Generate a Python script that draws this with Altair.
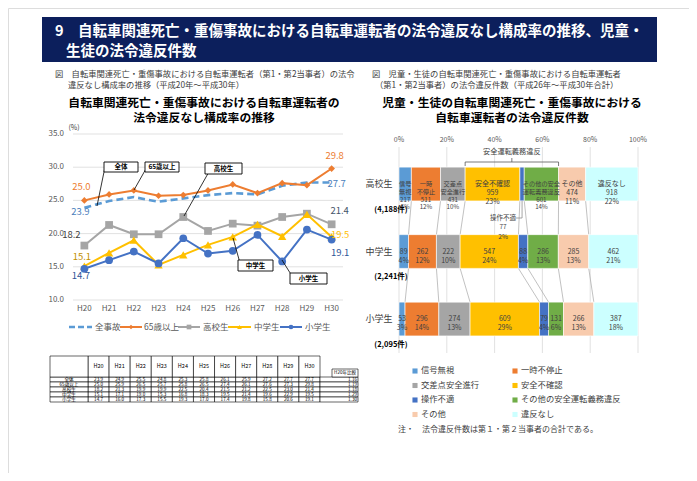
import altair as alt
import pandas as pd

M = 8  # page margin: chart pixel = image pixel - 8


def P(v):
    return v - M


FONT = "Noto Sans CJK JP"

# ---------------- data ----------------
years = ["H20", "H21", "H22", "H23", "H24", "H25", "H26", "H27", "H28", "H29", "H30"]
all_accidents = [23.9, 24.9, 25.5, 24.8, 25.3, 25.8, 26.1, 25.9, 27.2, 27.7, 27.7]
age65 = [25.0, 25.9, 26.5, 25.7, 25.8, 26.5, 27.4, 26.1, 27.6, 27.3, 29.8]
high_school = [18.2, 21.3, 19.9, 19.9, 22.5, 20.4, 21.5, 21.2, 22.5, 23.0, 21.4]
junior_high = [15.1, 17.1, 19.0, 15.3, 16.8, 18.3, 19.5, 21.4, 19.6, 22.9, 19.5]
elementary = [14.7, 16.0, 17.3, 15.5, 19.3, 17.0, 17.4, 19.8, 15.8, 20.6, 19.1]
ratio_h20 = [1.16, 1.19, 1.18, 1.29, 1.30]
line_series = ["全事故", "65歳以上", "高校生", "中学生", "小学生"]
table_rows = ["全体", "65歳以上", "高校生", "中学生", "小学生"]
y_ticks = [10, 15, 20, 25, 30, 35]

groups = ["高校生", "中学生", "小学生"]
group_totals = [4188, 2241, 2095]
violations = ["信号無視", "一時不停止", "交差点安全進行", "安全不確認", "操作不適",
              "その他の安全運転義務違反", "その他", "違反なし"]
counts_high = [217, 511, 431, 959, 77, 601, 474, 918]
counts_junior = [89, 262, 222, 547, 88, 286, 285, 462]
counts_elem = [53, 296, 274, 609, 79, 131, 266, 387]
pct_high = [5, 12, 10, 23, 2, 14, 11, 22]
pct_junior = [4, 12, 10, 24, 4, 13, 13, 21]
pct_elem = [3, 14, 13, 29, 4, 6, 13, 18]
high_names = ["信号\n無視", "一時\n不停止", "交差点\n安全進行", "安全不確認", "操作不適",
              "その他の安全\n運転義務違反", "その他", "違反なし"]
x_ticks = [0, 20, 40, 60, 80, 100]

# ---------------- styles ----------------
line_colors = ["#5B9BD5", "#ED7D31", "#A5A5A5", "#FFC000", "#4472C4"]
marker_shapes = ["", "diamond", "square", "triangle-up", "circle"]
marker_sizes = [0, 45, 60, 70, 60]
bar_colors = ["#5B9BD5", "#ED7D31", "#A5A5A5", "#FFC000", "#4472C4", "#70AD47", "#F8CBAD", "#CCFFFF"]
TXT = "#404040"

one = pd.DataFrame({"k": [0]})


def ptext(rows, **kw):
    df = pd.DataFrame(rows, columns=["x", "y", "t"])
    df["x"] = df["x"] - M
    df["y"] = df["y"] - M
    return alt.Chart(df).mark_text(font=FONT, **kw).encode(
        x=alt.X("x:Q", scale=None, axis=None),
        y=alt.Y("y:Q", scale=None, axis=None),
        text="t:N")


def prule(rows, **kw):
    df = pd.DataFrame(rows, columns=["x", "y", "x2", "y2"])
    for c in df.columns:
        df[c] = df[c] - M
    return alt.Chart(df).mark_rule(**kw).encode(
        x=alt.X("x:Q", scale=None, axis=None), y=alt.Y("y:Q", scale=None, axis=None),
        x2="x2:Q", y2="y2:Q")


def prect(rows, **kw):
    df = pd.DataFrame(rows, columns=["x", "y", "x2", "y2"])
    for c in df.columns:
        df[c] = df[c] - M
    return alt.Chart(df).mark_rect(**kw).encode(
        x=alt.X("x:Q", scale=None, axis=None), y=alt.Y("y:Q", scale=None, axis=None),
        x2="x2:Q", y2="y2:Q")


layers = []

# ---------------- banner & headings ----------------
layers.append(alt.Chart(one).mark_rect(color="#0C1F5C").encode(
    x=alt.value(P(42)), x2=alt.value(P(657)), y=alt.value(P(17)), y2=alt.value(P(62))))
layers.append(ptext([
    (55, 32, "9　自転車関連死亡・重傷事故における自転車運転者の法令違反なし構成率の推移、児童・"),
    (66, 52, "生徒の法令違反件数")],
    align="left", baseline="middle", fontSize=14.5, fontWeight="bold", color="white"))
layers.append(ptext([
    (55, 75, "図　自転車関連死亡・重傷事故における自転車運転者（第1・第2当事者）の法令"),
    (68, 86, "違反なし構成率の推移（平成20年～平成30年）"),
    (372, 75, "図　児童・生徒の自転車関連死亡・重傷事故における自転車運転者"),
    (375, 86, "（第1・第2当事者）の法令違反件数（平成26年～平成30年合計）")],
    align="left", baseline="middle", fontSize=8.3, color=TXT))
layers.append(ptext([
    (204, 103, "自転車関連死亡・重傷事故における自転車運転者の"),
    (204, 118, "法令違反なし構成率の推移"),
    (512, 103, "児童・生徒の自転車関連死亡・重傷事故における"),
    (512, 118, "自転車運転者の法令違反件数")],
    align="center", baseline="middle", fontSize=11.8, fontWeight="bold", color="#000000"))

# ---------------- line chart ----------------
X_LINE = alt.Scale(type="point", domain=years, range=[P(72), P(344)], padding=0.5)
Y_LINE = alt.Scale(domain=[10, 35], range=[P(300), P(134)], nice=False, zero=False)

series_vals = [all_accidents, age65, high_school, junior_high, elementary]
line_df = pd.DataFrame([{"series": s, "year": y, "value": v}
                        for s, arr in zip(line_series, series_vals)
                        for y, v in zip(years, arr)])
ticks_df = pd.DataFrame({"v": y_ticks})
years_df = pd.DataFrame({"year": years})

lc = []
lc.append(alt.Chart(ticks_df).mark_rule(color="#D9D9D9", strokeWidth=0.8).encode(
    y=alt.Y("v:Q", scale=Y_LINE, axis=None), x=alt.value(P(73)), x2=alt.value(P(343))))
lc.append(alt.Chart(ticks_df).mark_text(font=FONT, align="right", baseline="middle",
                                        fontSize=8, color="#595959").encode(
    y=alt.Y("v:Q", scale=Y_LINE, axis=None), x=alt.value(P(64)),
    text=alt.Text("v:Q", format=".1f")))
lc.append(alt.Chart(years_df).mark_text(font=FONT, baseline="middle", fontSize=8,
                                        color="#595959").encode(
    x=alt.X("year:O", scale=X_LINE, axis=None), y=alt.value(P(309)), text="year:N"))

for i, s in enumerate(line_series):
    sub = line_df[line_df["series"] == s]
    kw = dict(color=line_colors[i], strokeWidth=2)
    if i == 0:
        kw = dict(color=line_colors[i], strokeWidth=2.6, strokeDash=[7, 4])
    lc.append(alt.Chart(sub).mark_line(**kw).encode(
        x=alt.X("year:O", scale=X_LINE, axis=None), y=alt.Y("value:Q", scale=Y_LINE, axis=None)))
    if marker_shapes[i]:
        lc.append(alt.Chart(sub).mark_point(shape=marker_shapes[i], filled=True, opacity=1,
                                            size=marker_sizes[i], color=line_colors[i]).encode(
            x=alt.X("year:O", scale=X_LINE, axis=None), y=alt.Y("value:Q", scale=Y_LINE, axis=None)))

label_specs = [
    ("65歳以上", 0, -3, -13, "#ED7D31"),
    ("全事故", 0, -4, 4, "#4A7EBB"),
    ("65歳以上", 10, 3, -12.5, "#ED7D31"),
    ("全事故", 10, 5, 1.5, "#4A7EBB"),
    ("高校生", 0, -13, -10.5, "#404040"),
    ("高校生", 10, 8, -13, "#44546A"),
    ("中学生", 0, -2.5, -9, "#BF8F00"),
    ("中学生", 10, 8.5, -2, "#FFC000"),
    ("小学生", 0, -3.5, 7, "#2F5597"),
    ("小学生", 10, 8.5, 13.5, "#2F5597"),
]
for s, idx, dx, dy, col in label_specs:
    sub = line_df[(line_df["series"] == s) & (line_df["year"] == years[idx])]
    lc.append(alt.Chart(sub).mark_text(font=FONT, fontSize=9.5, color=col, dx=dx, dy=dy,
                                       baseline="middle").encode(
        x=alt.X("year:O", scale=X_LINE, axis=None), y=alt.Y("value:Q", scale=Y_LINE, axis=None),
        text=alt.Text("value:Q", format=".1f")))

layers.append(alt.layer(*lc))

layers.append(ptext([(74, 128, "(%)")], fontSize=7, color=TXT, baseline="middle"))

# callouts
layers.append(prule([(105, 167, 97, 206), (147, 167, 134, 190), (210, 170, 184, 216),
                     (240, 263, 233, 238), (292, 276, 282, 260)],
                    color="#000000", strokeWidth=0.8))
layers.append(prect([(104, 162, 138, 172), (145, 162, 179, 172), (205, 163, 242, 174),
                     (238, 260, 273, 271), (290, 273, 327, 284)],
                    fill="white", stroke="#000000", strokeWidth=0.9))
layers.append(ptext([(121, 167, "全体"), (162, 167, "65歳以上"), (223.5, 168.5, "高校生"),
                     (255.5, 265.5, "中学生"), (308.5, 278.5, "小学生")],
                    fontSize=6.5, fontWeight="bold", color="#000000", baseline="middle"))

# line legend
leg_items = [(69, 92, 95), (120, 142, 144), (178, 200, 203), (228, 251, 254), (280, 302, 305)]
layers.append(prule([(leg_items[0][0], 327, leg_items[0][1], 327)],
                    color=line_colors[0], strokeWidth=2.5, strokeDash=[6, 3]))
for i in range(1, 5):
    a, b, _ = leg_items[i]
    layers.append(prule([(a, 327, b, 327)], color=line_colors[i], strokeWidth=2))
    mdf = pd.DataFrame({"x": [P((a + b) / 2)], "y": [P(327)]})
    layers.append(alt.Chart(mdf).mark_point(shape=marker_shapes[i], filled=True, opacity=1,
                                            size=22, color=line_colors[i]).encode(
        x=alt.X("x:Q", scale=None, axis=None), y=alt.Y("y:Q", scale=None, axis=None)))
layers.append(ptext([(leg_items[i][2], 327, line_series[i]) for i in range(5)],
                    align="left", baseline="middle", fontSize=8.5, color="#595959"))

# ---------------- table ----------------
TX = alt.Scale(type="band", domain=years, range=[P(88), P(320)], paddingInner=0, paddingOuter=0)
TY = alt.Scale(type="band", domain=table_rows, range=[P(377), P(402)], paddingInner=0, paddingOuter=0)
cell_df = pd.DataFrame([{"row": r, "year": y, "value": v}
                        for r, arr in zip(table_rows, series_vals)
                        for y, v in zip(years, arr)])
rows_df = pd.DataFrame({"row": table_rows, "ratio": ratio_h20})
tb = []
cell_kw = dict(fill="white", stroke="#000000", strokeWidth=0.6)
tb.append(alt.Chart(cell_df).mark_rect(**cell_kw).encode(
    x=alt.X("year:O", scale=TX, axis=None), y=alt.Y("row:N", scale=TY, axis=None)))
tb.append(alt.Chart(years_df).mark_rect(**cell_kw).encode(
    x=alt.X("year:O", scale=TX, axis=None), y=alt.value(P(356)), y2=alt.value(P(377))))
tb.append(alt.Chart(rows_df).mark_rect(**cell_kw).encode(
    x=alt.value(P(50)), x2=alt.value(P(88)), y=alt.Y("row:N", scale=TY, axis=None)))
tb.append(alt.Chart(rows_df).mark_rect(**cell_kw).encode(
    x=alt.value(P(320)), x2=alt.value(P(358)), y=alt.Y("row:N", scale=TY, axis=None)))
tb.append(alt.Chart(one).mark_rect(**cell_kw).encode(
    x=alt.value(P(50)), x2=alt.value(P(88)), y=alt.value(P(356)), y2=alt.value(P(377))))
tb.append(alt.Chart(one).mark_rect(**cell_kw).encode(
    x=alt.value(P(332)), x2=alt.value(P(358)), y=alt.value(P(369)), y2=alt.value(P(377))))
tb.append(alt.Chart(years_df).mark_text(font=FONT, fontSize=5.5, color="#000000",
                                        baseline="middle").encode(
    x=alt.X("year:O", scale=TX, axis=None), y=alt.value(P(366)), text="year:N"))
tb.append(alt.Chart(cell_df).mark_text(font=FONT, fontSize=4.6, color="#000000",
                                       baseline="middle").encode(
    x=alt.X("year:O", scale=TX, axis=None), y=alt.Y("row:N", scale=TY, axis=None),
    text=alt.Text("value:Q", format=".1f")))
tb.append(alt.Chart(rows_df).mark_text(font=FONT, fontSize=4.6, color="#000000",
                                       baseline="middle").encode(
    x=alt.value(P(69)), y=alt.Y("row:N", scale=TY, axis=None), text="row:N"))
tb.append(alt.Chart(rows_df).mark_text(font=FONT, fontSize=4.6, color="#000000",
                                       baseline="middle", align="right").encode(
    x=alt.value(P(357)), y=alt.Y("row:N", scale=TY, axis=None),
    text=alt.Text("ratio:Q", format=".2f")))
tb.append(alt.Chart(one).mark_text(font=FONT, fontSize=4.5, color="#000000", baseline="middle",
                                   text="H20年比較").encode(
    x=alt.value(P(345)), y=alt.value(P(373))))
layers.append(alt.layer(*tb))

# ---------------- stacked bar chart ----------------
BX = alt.Scale(domain=[0, 100], range=[P(399), P(638)], nice=False, zero=False)
BY = alt.Scale(domain=[0, 3], range=[P(150.25), P(352.75)], nice=False, zero=False)

all_counts = [counts_high, counts_junior, counts_elem]
all_pcts = [pct_high, pct_junior, pct_elem]
rows = []
for gi, (g, cnts, pcts) in enumerate(zip(groups, all_counts, all_pcts)):
    tot = sum(cnts)
    cum = 0.0
    for vi, (v, c, p) in enumerate(zip(violations, cnts, pcts)):
        start = cum / tot * 100
        cum += c
        end = cum / tot * 100
        if gi == 0:
            lab = f"{high_names[vi]}\n{c}\n{p}%"
        else:
            lab = f"{c}\n{p}%"
        rows.append({"group": g, "gi": gi, "vi": vi, "violation": v, "count": c,
                     "start": start, "end": end, "mid": (start + end) / 2,
                     "y0": gi + 0.25, "y1": gi + 0.75, "yc": gi + 0.5, "label": lab})
bar_df = pd.DataFrame(rows)

bc = []
bc.append(alt.Chart(pd.DataFrame({"g": x_ticks})).mark_rule(color="#D9D9D9", strokeWidth=0.8).encode(
    x=alt.X("g:Q", scale=BX, axis=None), y=alt.value(P(147)), y2=alt.value(P(353))))
bc.append(alt.Chart(pd.DataFrame({"g": x_ticks, "gl": [f"{t}%" for t in x_ticks]})).mark_text(
    font=FONT, fontSize=7, color="#595959", baseline="middle").encode(
    x=alt.X("g:Q", scale=BX, axis=None), y=alt.value(P(140)), text="gl:N"))

# series connector lines
conn = []
for gi in range(2):
    a = bar_df[bar_df["gi"] == gi].sort_values("vi")
    b = bar_df[bar_df["gi"] == gi + 1].sort_values("vi")
    for vi in range(7):
        conn.append({"xa": a["end"].iloc[vi], "xb": b["end"].iloc[vi],
                     "ya": gi + 0.75, "yb": gi + 1.25})
bc.append(alt.Chart(pd.DataFrame(conn)).mark_rule(color="#A6A6A6", strokeWidth=0.7).encode(
    x=alt.X("xa:Q", scale=BX, axis=None), x2="xb:Q",
    y=alt.Y("ya:Q", scale=BY, axis=None), y2="yb:Q"))

bc.append(alt.Chart(bar_df).mark_rect(stroke="white", strokeWidth=0.6).encode(
    x=alt.X("start:Q", scale=BX, axis=None), x2="end:Q",
    y=alt.Y("y0:Q", scale=BY, axis=None), y2="y1:Q",
    color=alt.Color("violation:N", scale=alt.Scale(domain=violations, range=bar_colors), legend=None)))

hs = bar_df[bar_df["gi"] == 0]
four = hs[hs["vi"].isin([0, 1, 2, 5])]
three = hs[hs["vi"].isin([3, 6, 7])]
callout = hs[hs["vi"] == 4]
others = bar_df[bar_df["gi"] > 0]


def seg_text(df, **kw):
    return alt.Chart(df).mark_text(font=FONT, color=TXT, baseline="middle", lineBreak="\n", **kw).encode(
        x=alt.X("mid:Q", scale=BX, axis=None), y=alt.Y("yc:Q", scale=BY, axis=None), text="label:N")


bc.append(seg_text(four, fontSize=6.2, lineHeight=7.8))
bc.append(seg_text(three, fontSize=7, lineHeight=9.2))
bc.append(seg_text(others, fontSize=7, lineHeight=9.2))
bc.append(seg_text(callout, fontSize=6.5, lineHeight=9.5, dx=-19, dy=33.5))
bc.append(alt.Chart(callout).mark_rule(color="#7F7F7F", strokeWidth=0.7).encode(
    x=alt.X("mid:Q", scale=BX, axis=None), y=alt.value(P(201)), y2=alt.value(P(218))))
bc.append(alt.Chart(callout).mark_rule(color="#7F7F7F", strokeWidth=0.7).encode(
    x=alt.X("mid:Q", scale=BX, axis=None), x2=alt.value(P(516)), y=alt.value(P(218))))

# bracket for 安全運転義務違反 (安全不確認 .. その他の安全運転義務違反)
br = pd.DataFrame({"a": [hs[hs["vi"] == 3]["start"].iloc[0]],
                   "b": [hs[hs["vi"] == 5]["end"].iloc[0]]})
br["c"] = (br["a"] + br["b"]) / 2
br["t"] = ["安全運転義務違反"]
bk = dict(color="#595959", strokeWidth=0.8)
bc.append(alt.Chart(br).mark_rule(**bk).encode(
    x=alt.X("a:Q", scale=BX, axis=None), x2="b:Q", y=alt.value(P(162))))
bc.append(alt.Chart(br).mark_rule(**bk).encode(
    x=alt.X("a:Q", scale=BX, axis=None), y=alt.value(P(162)), y2=alt.value(P(166))))
bc.append(alt.Chart(br).mark_rule(**bk).encode(
    x=alt.X("b:Q", scale=BX, axis=None), y=alt.value(P(162)), y2=alt.value(P(166))))
bc.append(alt.Chart(br).mark_rule(**bk).encode(
    x=alt.X("c:Q", scale=BX, axis=None), y=alt.value(P(158)), y2=alt.value(P(162))))
bc.append(alt.Chart(br).mark_text(font=FONT, fontSize=7.2, color=TXT, baseline="middle").encode(
    x=alt.X("c:Q", scale=BX, axis=None), y=alt.value(P(152)), text="t:N"))

gdf = pd.DataFrame({"group": groups, "yc": [i + 0.5 for i in range(3)],
                    "yt": [i + 0.885 for i in range(3)],
                    "tot": [f"({t:,}件)" for t in group_totals]})
bc.append(alt.Chart(gdf).mark_text(font=FONT, fontSize=9, color=TXT, baseline="middle").encode(
    x=alt.value(P(379)), y=alt.Y("yc:Q", scale=BY, axis=None), text="group:N"))
bc.append(alt.Chart(gdf).mark_text(font=FONT, fontSize=7.5, fontWeight="bold", color="#000000",
                                   baseline="middle").encode(
    x=alt.value(P(391)), y=alt.Y("yt:Q", scale=BY, axis=None), text="tot:N"))
layers.append(alt.layer(*bc))

# bar legend
lx = [415, 515]
ly = [371, 385.5, 400, 414.5]
leg = pd.DataFrame({
    "x": [P(lx[i % 2]) for i in range(8)],
    "y": [P(ly[i // 2]) for i in range(8)],
    "c": bar_colors, "t": violations})
layers.append(alt.Chart(leg).mark_square(size=26, opacity=1).encode(
    x=alt.X("x:Q", scale=None, axis=None), y=alt.Y("y:Q", scale=None, axis=None),
    color=alt.Color("c:N", scale=None)))
layers.append(alt.Chart(leg).mark_text(font=FONT, fontSize=8.3, color=TXT, align="left",
                                       baseline="middle", dx=6).encode(
    x=alt.X("x:Q", scale=None, axis=None), y=alt.Y("y:Q", scale=None, axis=None), text="t:N"))
layers.append(ptext([(398, 430, "注・　法令違反件数は第１・第２当事者の合計である。")],
                    align="left", baseline="middle", fontSize=8, color=TXT))

chart = alt.layer(*layers).resolve_scale(
    x="independent", y="independent", color="independent"
).properties(
    width=681, height=465, padding=0,
    autosize=alt.AutoSizeParams(type="none")
).configure_view(strokeWidth=0).configure(font=FONT)

chart.save("out.html", embed_options={"renderer": "svg", "actions": False})
